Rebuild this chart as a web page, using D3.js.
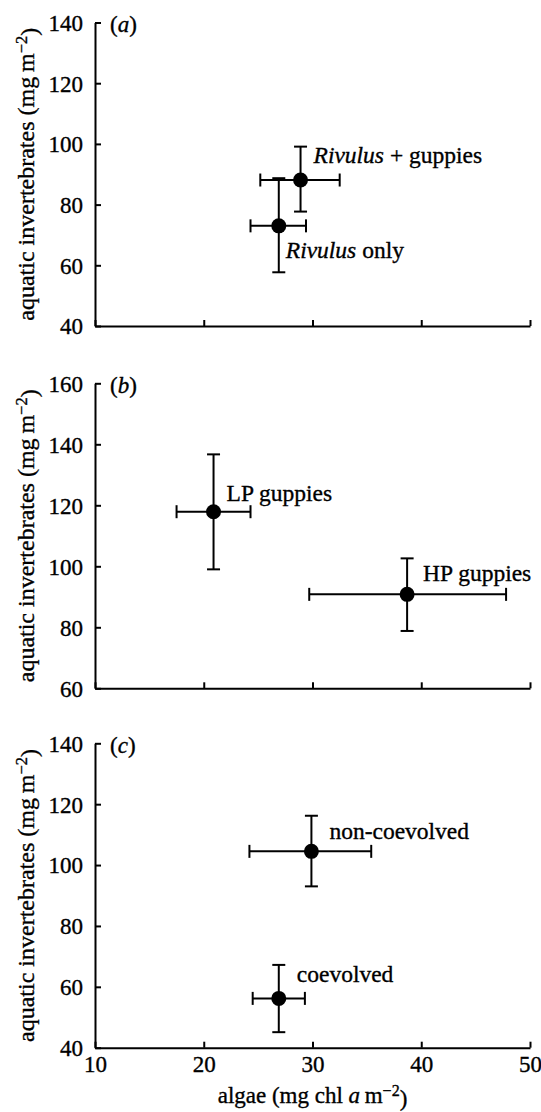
<!DOCTYPE html>
<html>
<head>
<meta charset="utf-8">
<style>
body { margin: 0; background: #fff; }
svg text { font-family: "Liberation Serif", "Times New Roman", serif; fill: #000; stroke: #000; stroke-width: 0.35px; }
.axis path, .axis line { stroke: #000; stroke-width: 2; }
.axis text { font-size: 23px; }
</style>
</head>
<body>
<svg id="chart" width="541" height="1112"></svg>
<script src="https://d3js.org/d3.v7.min.js"></script>
<script>
// panel (a)
var labelsA = ["Rivulus + guppies", "Rivulus only"];
var algaeA = [28.9, 26.9], algaeLoA = [25.2, 24.3], algaeHiA = [32.5, 29.4];
var invertA = [88.1, 73.0], invertLoA = [77.7, 57.7], invertHiA = [99.1, 88.7];
// panel (b)
var labelsB = ["LP guppies", "HP guppies"];
var algaeB = [20.9, 38.7], algaeLoB = [17.5, 29.7], algaeHiB = [24.3, 47.8];
var invertB = [117.9, 90.8], invertLoB = [99.0, 78.8], invertHiB = [136.7, 102.6];
// panel (c)
var labelsC = ["non-coevolved", "coevolved"];
var algaeC = [29.9, 26.9], algaeLoC = [24.2, 24.5], algaeHiC = [35.4, 29.3];
var invertC = [104.5, 56.2], invertLoC = [93.0, 45.1], invertHiC = [116.2, 67.2];

var xTicks = [10, 20, 30, 40, 50];
var yTicksA = [40, 60, 80, 100, 120, 140];
var yTicksB = [60, 80, 100, 120, 140, 160];
var yTicksC = [40, 60, 80, 100, 120, 140];

var panels = [
  {tag: "a", labels: labelsA, x: algaeA, xlo: algaeLoA, xhi: algaeHiA, y: invertA, ylo: invertLoA, yhi: invertHiA,
   yTicks: yTicksA, top: 22.5, bottom: 326, off: [[13, -17], [7, 32]]},
  {tag: "b", labels: labelsB, x: algaeB, xlo: algaeLoB, xhi: algaeHiB, y: invertB, ylo: invertLoB, yhi: invertHiB,
   yTicks: yTicksB, top: 383.3, bottom: 688.3, off: [[13, -11], [16, -13]]},
  {tag: "c", labels: labelsC, x: algaeC, xlo: algaeLoC, xhi: algaeHiC, y: invertC, ylo: invertLoC, yhi: invertHiC,
   yTicks: yTicksC, top: 743.3, bottom: 1047.7, off: [[18, -12], [18, -16]]}
];

var svg = d3.select("#chart");
var left = 95, right = 530;
var x = d3.scaleLinear().domain([10, 50]).range([left, right]);

panels.forEach(function(p, pi) {
  var y = d3.scaleLinear().domain(d3.extent(p.yTicks)).range([p.bottom, p.top]);
  var last = pi == panels.length - 1;

  svg.append("g")
      .attr("class", "axis")
      .attr("transform", "translate(" + left + ",0)")
      .call(d3.axisLeft(y).tickValues(p.yTicks).tickSizeInner(-6).tickSizeOuter(0).tickPadding(12))
      .call(g => g.selectAll("text").attr("dy", "0.34em"));

  svg.append("g")
      .attr("class", "axis")
      .attr("transform", "translate(0," + p.bottom + ")")
      .call(d3.axisBottom(x).tickValues(xTicks).tickSizeInner(-6).tickSizeOuter(0).tickPadding(8)
        .tickFormat(last ? d3.format("d") : ""));

  // panel tag
  var tg = svg.append("text")
      .attr("x", 110).attr("y", p.top + 9.5)
      .style("font-size", "23px");
  tg.append("tspan").text("(");
  tg.append("tspan").style("font-style", "italic").text(p.tag);
  tg.append("tspan").text(")");

  // y title
  var yt = svg.append("text")
      .attr("transform", "translate(34," + (p.top + p.bottom) / 2 + ") rotate(-90)")
      .attr("text-anchor", "middle")
      .style("font-size", "24px");
  yt.append("tspan").text("aquatic invertebrates (mg\u2009m");
  yt.append("tspan").attr("dy", "-0.42em").style("font-size", "16.5px").text("\u22122");
  yt.append("tspan").attr("dy", "0.42em").text(")");

  var pts = p.labels.map(function(l, i) {
    return {label: l, x: p.x[i], xlo: p.xlo[i], xhi: p.xhi[i], y: p.y[i], ylo: p.ylo[i], yhi: p.yhi[i], off: p.off[i]};
  });

  var g = svg.append("g").attr("stroke", "#000").attr("stroke-width", 2).attr("fill", "none");
  var cap = 6.5;
  pts.forEach(function(d) {
    g.append("line").attr("x1", x(d.xlo)).attr("x2", x(d.xhi)).attr("y1", y(d.y)).attr("y2", y(d.y));
    g.append("line").attr("x1", x(d.xlo)).attr("x2", x(d.xlo)).attr("y1", y(d.y) - cap).attr("y2", y(d.y) + cap);
    g.append("line").attr("x1", x(d.xhi)).attr("x2", x(d.xhi)).attr("y1", y(d.y) - cap).attr("y2", y(d.y) + cap);
    g.append("line").attr("x1", x(d.x)).attr("x2", x(d.x)).attr("y1", y(d.ylo)).attr("y2", y(d.yhi));
    g.append("line").attr("x1", x(d.x) - cap).attr("x2", x(d.x) + cap).attr("y1", y(d.ylo)).attr("y2", y(d.ylo));
    g.append("line").attr("x1", x(d.x) - cap).attr("x2", x(d.x) + cap).attr("y1", y(d.yhi)).attr("y2", y(d.yhi));
  });

  svg.append("g").selectAll("circle")
    .data(pts)
    .enter().append("circle")
      .attr("cx", d => x(d.x))
      .attr("cy", d => y(d.y))
      .attr("r", 7.5)
      .attr("fill", "#000");

  pts.forEach(function(d) {
    var t = svg.append("text")
        .attr("x", x(d.x) + d.off[0])
        .attr("y", y(d.y) + d.off[1])
        .style("font-size", "23.5px");
    if (d.label.indexOf("Rivulus") == 0) {
      t.append("tspan").style("font-style", "italic").text("Rivulus");
      t.append("tspan").text(d.label.slice(7));
    } else {
      t.text(d.label);
    }
  });
});

// x title
var xt = svg.append("text")
    .attr("x", (left + right) / 2).attr("y", 1103)
    .attr("text-anchor", "middle")
    .style("font-size", "23px");
xt.append("tspan").text("algae (mg chl ");
xt.append("tspan").style("font-style", "italic").text("a");
xt.append("tspan").text("\u2009m");
xt.append("tspan").attr("dy", "-0.42em").style("font-size", "16px").text("\u22122");
xt.append("tspan").attr("dy", "0.42em").text(")");
</script>
</body>
</html>
